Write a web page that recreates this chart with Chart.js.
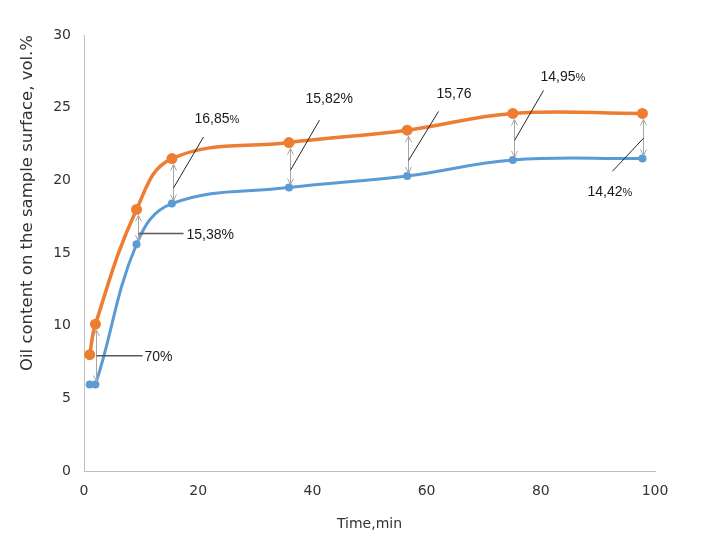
<!DOCTYPE html>
<html lang="en">
<head>
    <meta charset="UTF-8">
    <title>Oil content vs time</title>
    <script src="https://cdn.jsdelivr.net/npm/chart.js"></script>
    <style>
        body {
            margin: 0;
            background-color: #ffffff;
        }
        #oilChart {
            display: block;
        }
    </style>
</head>
<body>
    <canvas id="oilChart" width="719" height="553"></canvas>

    <script>
        // data
        const timeMin = [1, 2, 9.2, 15.4, 35.9, 56.6, 75.1, 97.8];
        const oilUpper = [8.0, 10.1, 18.0, 21.5, 22.6, 23.45, 24.6, 24.6];
        const oilLower = [5.95, 5.95, 15.6, 18.4, 19.5, 20.3, 21.4, 21.5];
        const xTicks = [0, 20, 40, 60, 80, 100];
        const yTicks = [0, 5, 10, 15, 20, 25, 30];
        // gap labels, one per time point starting at the second one
        const gapLabels = ['70%', '15,38%', '16,85%', '15,82%', '15,76', '14,95%', '14,42%'];

        // where each leader line and label sits (pixels, relative to the arrow)
        const noteLayout = [
            { t: 0.5, dx: 46, dy: 0, tx: 2, ty: 0, small: false },
            { t: 0.7, dx: 45, dy: 0, tx: 3, ty: 0, small: false },
            { t: 0.65, dx: 30, dy: -51, tx: -9, ty: -19, small: true },
            { t: 0.6, dx: 29, dy: -50, tx: -14, ty: -22, small: false },
            { t: 0.66, dx: 30, dy: -49, tx: -2, ty: -18, small: false },
            { t: 0.56, dx: 29, dy: -50, tx: -3, ty: -14, small: true },
            { t: 0.52, dx: -31, dy: 33, tx: -25, ty: 20, small: true }
        ];

        const gapNotes = {
            id: 'gapNotes',
            afterDatasetsDraw(chart) {
                const { ctx, scales: { x, y } } = chart;
                ctx.save();
                noteLayout.forEach((n, k) => {
                    const i = k + 1;
                    const px = Math.round(x.getPixelForValue(timeMin[i])) + 1.5;
                    const yTop = y.getPixelForValue(oilUpper[i]) + 6;
                    const yBot = y.getPixelForValue(oilLower[i]) - 3;

                    // double headed grey arrow
                    ctx.strokeStyle = '#a6a6a6';
                    ctx.lineWidth = 1;
                    ctx.beginPath();
                    ctx.moveTo(px, yTop);
                    ctx.lineTo(px, yBot);
                    ctx.moveTo(px - 3, yTop + 6);
                    ctx.lineTo(px, yTop);
                    ctx.lineTo(px + 3, yTop + 6);
                    ctx.moveTo(px - 3, yBot - 6);
                    ctx.lineTo(px, yBot);
                    ctx.lineTo(px + 3, yBot - 6);
                    ctx.stroke();

                    // leader line
                    const sy = yTop + (yBot - yTop) * n.t;
                    const ex = px + n.dx;
                    const ey = sy + n.dy;
                    ctx.beginPath();
                    if (n.dy === 0) {
                        ctx.strokeStyle = '#595959';
                        ctx.lineWidth = 1.5;
                    } else {
                        ctx.strokeStyle = '#262626';
                        ctx.lineWidth = 1;
                    }
                    ctx.moveTo(px, sy);
                    ctx.lineTo(ex, ey);
                    ctx.stroke();

                    // label
                    const lx = ex + n.tx;
                    const base = ey + n.ty + 5;
                    let text = gapLabels[k];
                    ctx.fillStyle = '#1a1a1a';
                    ctx.textBaseline = 'alphabetic';
                    ctx.textAlign = 'left';
                    ctx.font = '14px "Liberation Sans", Arial, sans-serif';
                    if (n.small && text.endsWith('%')) {
                        text = text.slice(0, -1);
                        ctx.fillText(text, lx, base);
                        const w = ctx.measureText(text).width;
                        ctx.font = '11px "Liberation Sans", Arial, sans-serif';
                        ctx.fillText('%', lx + w, base);
                    } else {
                        ctx.fillText(text, lx, base);
                    }
                });
                ctx.restore();
            }
        };

        const tickFont = { family: '"DejaVu Sans", Verdana, sans-serif', size: 14 };

        const chart = new Chart(document.getElementById('oilChart').getContext('2d'), {
            type: 'scatter',
            data: {
                datasets: [{
                    label: 'lower',
                    data: timeMin.map((t, i) => ({ x: t, y: oilLower[i] })),
                    showLine: true,
                    borderColor: '#5b9bd5',
                    backgroundColor: '#5b9bd5',
                    borderWidth: 3,
                    pointRadius: 4,
                    pointBorderWidth: 0,
                    tension: 0.4
                }, {
                    label: 'upper',
                    data: timeMin.map((t, i) => ({ x: t, y: oilUpper[i] })),
                    showLine: true,
                    borderColor: '#ed7d31',
                    backgroundColor: '#ed7d31',
                    borderWidth: 3.5,
                    pointRadius: 5.5,
                    pointBorderWidth: 0,
                    tension: 0.4
                }]
            },
            options: {
                responsive: false,
                animation: false,
                layout: {
                    padding: { top: 35, right: 64, left: 0, bottom: 0 }
                },
                plugins: {
                    legend: { display: false },
                    tooltip: { enabled: false }
                },
                scales: {
                    x: {
                        type: 'linear',
                        min: 0,
                        max: 100,
                        afterBuildTicks: (s) => { s.ticks = xTicks.map(v => ({ value: v })); },
                        afterFit: (s) => { s.height = 82; },
                        grid: { display: false, drawTicks: false },
                        border: { display: true, color: '#bfbfbf', width: 1 },
                        ticks: { font: tickFont, color: '#333333', padding: 12 },
                        title: {
                            display: true,
                            text: 'Time,min',
                            font: tickFont,
                            color: '#333333',
                            padding: { top: 0, bottom: 20 }
                        }
                    },
                    y: {
                        min: 0,
                        max: 30,
                        afterBuildTicks: (s) => { s.ticks = yTicks.map(v => ({ value: v })); },
                        afterFit: (s) => { s.width = 84; },
                        grid: { display: false, drawTicks: false },
                        border: { display: true, color: '#bfbfbf', width: 1 },
                        ticks: { font: tickFont, color: '#333333', padding: 13 },
                        title: {
                            display: true,
                            text: 'Oil content on the sample surface, vol.%',
                            font: { family: '"DejaVu Sans", Verdana, sans-serif', size: 16.5 },
                            color: '#333333',
                            align: 'end',
                            padding: { top: 18, bottom: 0 }
                        }
                    }
                }
            },
            plugins: [gapNotes]
        });
    </script>
</body>
</html>
